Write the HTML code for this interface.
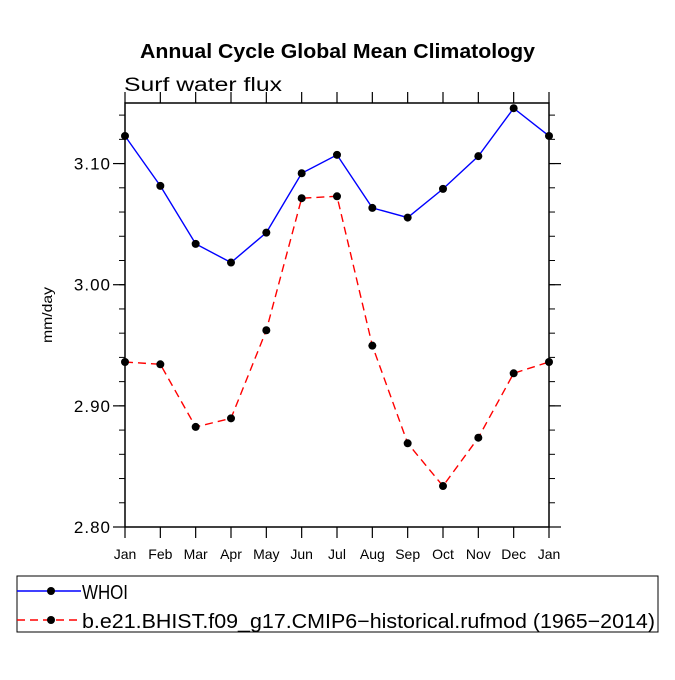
<!DOCTYPE html>
<html><head><meta charset="utf-8"><style>
html,body{margin:0;padding:0;background:#fff}
svg text{font-family:"Liberation Sans",sans-serif}
</style></head><body>
<svg id="chart" width="675" height="675" xmlns="http://www.w3.org/2000/svg">
<rect width="675" height="675" fill="#fff"/>
<text x="140" y="58" font-size="20" font-weight="bold" textLength="395" lengthAdjust="spacingAndGlyphs">Annual Cycle Global Mean Climatology</text>
<text x="124" y="91" font-size="19" textLength="158" lengthAdjust="spacingAndGlyphs">Surf water flux</text>
<text transform="translate(52,315) rotate(-90)" text-anchor="middle" font-size="14" textLength="56" lengthAdjust="spacingAndGlyphs">mm/day</text>
<g id="axes"></g>
<g id="series"></g>
<g id="legend">
<rect x="17" y="576" width="641" height="56" fill="none" stroke="#000" stroke-width="1"/>
</g>
</svg>
<script>
const months = ["Jan","Feb","Mar","Apr","May","Jun","Jul","Aug","Sep","Oct","Nov","Dec","Jan"];
const whoi = [3.1228,3.0816,3.0337,3.0183,3.0430,3.0920,3.1072,3.0634,3.0554,3.0791,3.1061,3.1457,3.1228];
const model = [2.9362,2.9343,2.8826,2.8897,2.9624,3.0714,3.0730,2.9497,2.8691,2.8338,2.8737,2.9269,2.9362];
const yTicks = [2.80,2.90,3.00,3.10];
const yTickLabels = ["2.80","2.90","3.00","3.10"];
const seriesNames = ["WHOI","b.e21.BHIST.f09_g17.CMIP6\u2212historical.rufmod (1965\u22122014)"];
const yMin = 2.80, yMax = 3.15;
const L=125,R=549,T=103,B=527;
const NS="http://www.w3.org/2000/svg";
const xs=i=>L+(R-L)*i/(months.length-1);
const ys=v=>B-(v-yMin)/(yMax-yMin)*(B-T);
function mk(tag,attrs,parent){const e=document.createElementNS(NS,tag);for(const k in attrs)e.setAttribute(k,attrs[k]);parent.appendChild(e);return e;}
const ax=document.getElementById('axes');
const frame=mk('rect',{x:L,y:T,width:R-L,height:B-T,fill:'none',stroke:'#000','stroke-width':1.5},ax);


months.forEach((m,i)=>{
  const x=xs(i);
  mk('line',{x1:x,x2:x,y1:B,y2:B+11,stroke:'#000','stroke-width':1.2},ax);
  mk('line',{x1:x,x2:x,y1:T,y2:T-11,stroke:'#000','stroke-width':1.2},ax);
  const t=mk('text',{x:x,y:559,'text-anchor':'middle','font-size':14},ax);
  t.textContent=m;
  
  
});
for(let v=yMin;v<=yMax+1e-9;v+=0.02){
  const y=ys(v);
  mk('line',{x1:L,x2:L-6,y1:y,y2:y,stroke:'#000','stroke-width':1},ax);
  mk('line',{x1:R,x2:R+6,y1:y,y2:y,stroke:'#000','stroke-width':1},ax);
}
yTicks.forEach((v,i)=>{
  const y=ys(v);
  mk('line',{x1:L,x2:L-12,y1:y,y2:y,stroke:'#000','stroke-width':1.2},ax);
  mk('line',{x1:R,x2:R+12,y1:y,y2:y,stroke:'#000','stroke-width':1.2},ax);
  const t=mk('text',{x:111,y:y+6,'text-anchor':'end','font-size':17,'letter-spacing':'1'},ax);
  t.textContent=yTickLabels[i];
  
  
});
const sg=document.getElementById('series');
function drawSeries(vals,color,dash,name){
  const g=mk('g',{},sg);
  
  
  const pl=mk('polyline',{points:vals.map((v,i)=>xs(i)+','+ys(v)).join(' '),fill:'none',stroke:color,'stroke-width':1.4,'stroke-dasharray':dash},g);
  
  
  vals.forEach((v,i)=>{
    const c=mk('circle',{cx:xs(i),cy:ys(v),r:4,fill:'#000'},g);
    
    
  });
}
drawSeries(whoi,'#0000ff','none','whoi-series');
drawSeries(model,'#ff0000','8,5','model-series');
const lg=document.getElementById('legend');
const legendWidths=[46,573];
[[591,'#0000ff','none'],[620,'#ff0000','8,5']].forEach((r,i)=>{
  const e=mk('g',{},lg);
  
  
  mk('line',{x1:17,x2:81,y1:r[0],y2:r[0],stroke:r[1],'stroke-width':1.4,'stroke-dasharray':r[2]},e);
  mk('circle',{cx:51,cy:r[0],r:4,fill:'#000'},e);
  const t=mk('text',{x:82,y:r[0]+8,'font-size':20,textLength:legendWidths[i],lengthAdjust:'spacingAndGlyphs'},e);
  t.textContent=seriesNames[i];
});
</script>
</body></html>
